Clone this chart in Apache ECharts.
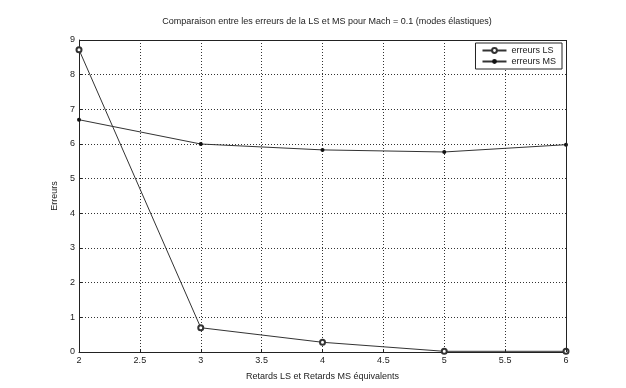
<!DOCTYPE html>
<html>
<head>
<meta charset="utf-8">
<script src="https://cdn.jsdelivr.net/npm/echarts@6/dist/echarts.min.js"></script>
<style>
  html, body { margin: 0; padding: 0; background: #fff; }
  #main { width: 626px; height: 388px; }
</style>
</head>
<body>
<div id="main"></div>
<script>
var retards = [2, 3, 4, 5, 6];
var erreursLS = [8.72, 0.7, 0.28, 0.02, 0.02];
var erreursMS = [6.7, 6.0, 5.83, 5.77, 5.98];

var chart = echarts.init(document.getElementById("main"));

function pairs(xs, ys) {
    return xs.map(function (x, i) { return [x, ys[i]]; });
}

var font = "Arial, 'Liberation Sans', sans-serif";

var option = {
    backgroundColor: "#fff",
    animation: false,
    textStyle: { fontFamily: font },
    title: {
        text: "Comparaison entre les erreurs de la LS et MS pour Mach = 0.1 (modes élastiques)",
        left: 322,
        top: 12,
        textAlign: "center",
        textStyle: { fontSize: 9, fontWeight: "normal", color: "#222", fontFamily: font }
    },
    legend: {
        right: 64,
        top: 43,
        orient: "vertical",
        itemGap: 2,
        itemWidth: 24,
        itemHeight: 6,
        padding: [3, 6],
        borderColor: "#222",
        borderWidth: 1,
        backgroundColor: "#fff",
        textStyle: { fontSize: 9, color: "#222" },
        data: ["erreurs LS", "erreurs MS"]
    },
    grid: {
        left: 79,
        right: 60,
        top: 40,
        bottom: 36
    },
    xAxis: {
        type: "value",
        min: 2,
        max: 6,
        interval: 0.5,
        name: "Retards LS et Retards MS équivalents",
        nameLocation: "middle",
        nameGap: 20,
        nameTextStyle: { fontSize: 9, color: "#222" },
        axisLine: { onZero: false, lineStyle: { color: "#222" } },
        axisTick: { inside: true, length: 3, lineStyle: { color: "#222" } },
        axisLabel: { fontSize: 9, color: "#222", margin: 4 },
        splitLine: { show: true, lineStyle: { color: "#333", type: [1, 2], width: 1 } }
    },
    yAxis: {
        type: "value",
        min: 0,
        max: 9,
        interval: 1,
        name: "Erreurs",
        nameLocation: "middle",
        nameGap: 12,
        nameTextStyle: { fontSize: 9, color: "#222" },
        axisLine: { show: true, lineStyle: { color: "#222" } },
        axisTick: { show: true, inside: true, length: 3, lineStyle: { color: "#222" } },
        axisLabel: { fontSize: 9, color: "#222", margin: 4 },
        splitLine: { show: true, lineStyle: { color: "#333", type: [1, 2], width: 1 } }
    },
    series: [{
        name: "erreurs LS",
        type: "line",
        data: pairs(retards, erreursLS),
        symbol: "emptyCircle",
        symbolSize: 5,
        showAllSymbol: true,
        lineStyle: { color: "#333", width: 1 },
        itemStyle: { color: "#333", borderColor: "#333", borderWidth: 0.8 }
    }, {
        name: "erreurs MS",
        type: "line",
        data: pairs(retards, erreursMS),
        symbol: "circle",
        symbolSize: 4,
        showAllSymbol: true,
        lineStyle: { color: "#333", width: 1 },
        itemStyle: { color: "#111" }
    }, {
        // cadre du graphique (axes en haut et à droite)
        type: "line",
        data: [],
        markLine: {
            silent: true,
            symbol: "none",
            label: { show: false },
            lineStyle: { color: "#222", type: "solid", width: 1 },
            data: [{ xAxis: 6 }, { yAxis: 9 }]
        }
    }]
};

chart.setOption(option);
</script>
</body>
</html>
